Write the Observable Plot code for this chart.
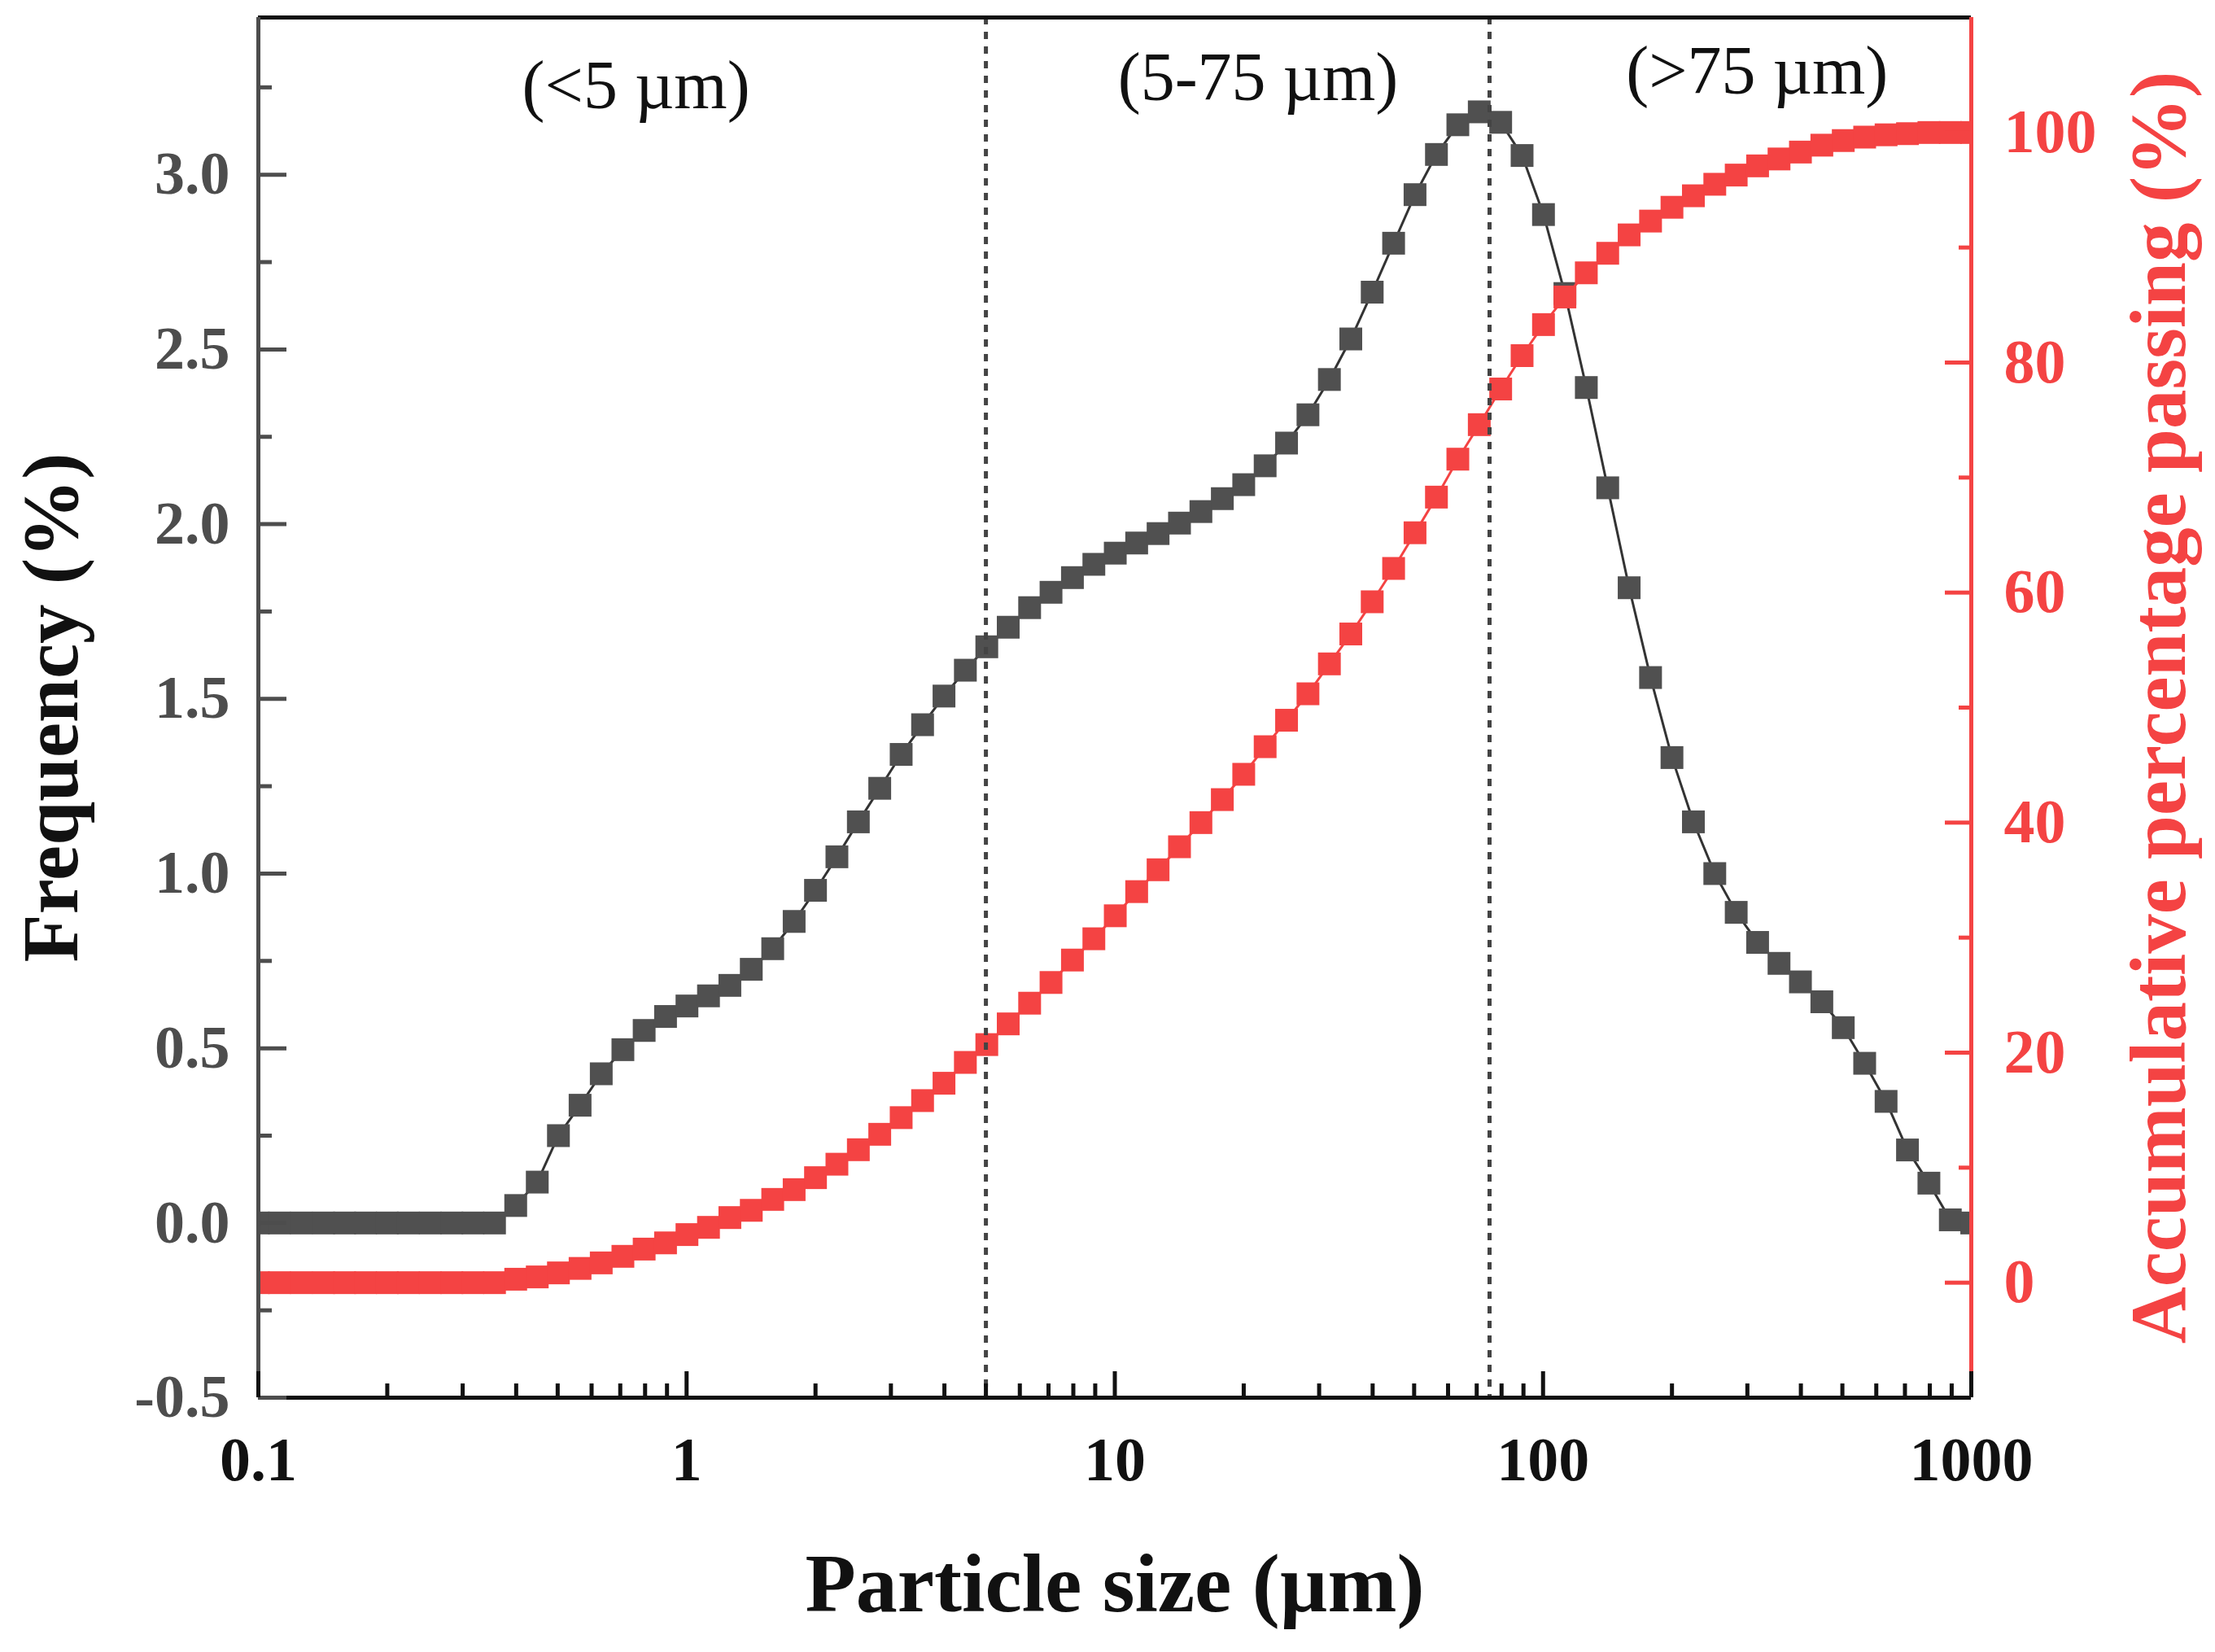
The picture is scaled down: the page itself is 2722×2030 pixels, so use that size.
<!DOCTYPE html>
<html>
<head>
<meta charset="utf-8">
<script src="https://cdn.jsdelivr.net/npm/d3@7"></script>
<script src="https://cdn.jsdelivr.net/npm/@observablehq/plot@0.6"></script>
<style>
  html, body { margin: 0; padding: 0; background: #fff; }
  #chart svg { display: block; }
</style>
</head>
<body>
<div id="chart"></div>
<script>
// Particle size classes (µm)
const sizes = [
  0.100, 0.112, 0.126, 0.142, 0.159, 0.178, 0.200, 0.224, 0.252, 0.283,
  0.317, 0.356, 0.399, 0.448, 0.502, 0.564, 0.632, 0.710, 0.796, 0.893,
  1.002, 1.125, 1.262, 1.416, 1.589, 1.783, 2.000, 2.244, 2.518, 2.825,
  3.170, 3.557, 3.991, 4.477, 5.024, 5.637, 6.325, 7.096, 7.962, 8.934,
  10.024, 11.247, 12.619, 14.159, 15.887, 17.825, 20.000, 22.440, 25.179, 28.251,
  31.698, 35.566, 39.905, 44.774, 50.238, 56.368, 63.246, 70.963, 79.621, 89.337,
  100.237, 112.468, 126.191, 141.589, 158.866, 178.250, 200.000, 224.404, 251.785, 282.508,
  316.979, 355.656, 399.052, 447.744, 502.377, 563.677, 632.456, 709.627, 796.214, 893.367,
  1002.374
];
// Frequency (%)
const frequency = [
  0, 0, 0, 0, 0, 0, 0, 0, 0, 0,
  0, 0, 0.05, 0.117, 0.25, 0.337, 0.427, 0.496, 0.551, 0.591,
  0.621, 0.650, 0.680, 0.726, 0.785, 0.863, 0.952, 1.048, 1.148, 1.244,
  1.341, 1.426, 1.508, 1.582, 1.649, 1.705, 1.761, 1.805, 1.847, 1.885,
  1.917, 1.946, 1.973, 2.003, 2.036, 2.073, 2.113, 2.167, 2.232, 2.313,
  2.414, 2.530, 2.664, 2.804, 2.943, 3.058, 3.143, 3.180, 3.150, 3.055,
  2.886, 2.66, 2.391, 2.104, 1.818, 1.561, 1.332, 1.148, 1.000, 0.889,
  0.803, 0.743, 0.690, 0.633, 0.559, 0.457, 0.348, 0.209, 0.114, 0.009,
  0
];
// Accumulative percentage passing (%)
const cumulative = [
  0, 0, 0, 0, 0, 0, 0, 0, 0, 0,
  0, 0, 0.3, 0.5, 0.85, 1.24, 1.72, 2.29, 2.92, 3.46,
  4.18, 4.81, 5.66, 6.29, 7.24, 8.09, 9.13, 10.3, 11.56, 12.9,
  14.35, 15.83, 17.34, 19.15, 20.7, 22.5, 24.3, 26.1, 28.05, 29.9,
  31.9, 34.0, 35.9, 37.9, 40.0, 42.0, 44.2, 46.6, 48.9, 51.2,
  53.8, 56.4, 59.2, 62.1, 65.2, 68.3, 71.6, 74.6, 77.7, 80.6,
  83.3, 85.7, 87.8, 89.5, 91.1, 92.3, 93.5, 94.5, 95.5, 96.3,
  97.1, 97.7, 98.3, 98.9, 99.3, 99.6, 99.8, 99.9, 100, 100,
  100
];

// Axes and ticks
const xDomain = [0.1, 1000];
const leftDomain = [-0.5, 3.45];
const rightDomain = [-10, 110];
const xMajorTicks = [0.1, 1, 10, 100, 1000];
const xMinorTicks = [0.2,0.3,0.4,0.5,0.6,0.7,0.8,0.9, 2,3,4,5,6,7,8,9, 20,30,40,50,60,70,80,90, 200,300,400,500,600,700,800,900];
const leftMajorTicks = [-0.5, 0, 0.5, 1.0, 1.5, 2.0, 2.5, 3.0];
const leftMinorTicks = [-0.25, 0.25, 0.75, 1.25, 1.75, 2.25, 2.75, 3.25];
const rightMajorTicks = [0, 20, 40, 60, 80, 100];
const rightMinorTicks = [10, 30, 50, 70, 90];
const boundaries = [5, 75];
const regionLabels = ["(<5 µm)", "(5-75 µm)", "(>75 µm)"];
const regionX = [0.762, 21.6, 316];
const regionY = [3.19, 3.213, 3.232];

// map right-axis values into the left (frequency) scale
const toLeft = v => leftDomain[0] + (v - rightDomain[0]) * (leftDomain[1] - leftDomain[0]) / (rightDomain[1] - rightDomain[0]);

const data = sizes.map((s, i) => ({size: s, freq: frequency[i], cum: toLeft(cumulative[i])}));
const regions = regionLabels.map((t, i) => ({t, x: regionX[i], y: regionY[i]}));

const W = 2722, H = 2030;
const mL = 317, mR = 300, mT = 21, mB = 313;
const pw = W - mL - mR, ph = H - mT - mB;
const GRAY = "#505050", RED = "#f44343", AX = "#4d4d4d", BLACK = "#111111";
const SQ = 28 / Math.sqrt(Math.PI);

const chart = Plot.plot({
  width: W, height: H,
  marginLeft: mL, marginRight: mR, marginTop: mT, marginBottom: mB,
  x: {type: "log", domain: xDomain, axis: null},
  y: {domain: leftDomain, axis: null},
  style: {fontFamily: "'Liberation Serif', 'Times New Roman', serif", background: "#fff"},
  marks: [
    // frequency series
    Plot.line(data, {x: "size", y: "freq", stroke: "#333", strokeWidth: 3, clip: true}),
    Plot.dot(data, {x: "size", y: "freq", symbol: "square", r: SQ, fill: GRAY, stroke: null, clip: true}),
    // accumulative series
    Plot.line(data, {x: "size", y: "cum", stroke: RED, strokeWidth: 3, clip: true}),
    Plot.dot(data, {x: "size", y: "cum", symbol: "square", r: SQ, fill: RED, stroke: null, clip: true}),
    // boundaries
    Plot.ruleX(boundaries, {stroke: "#444", strokeWidth: 5, strokeDasharray: "9,9"}),
    // region labels
    Plot.text(regions, {x: "x", y: "y", text: "t", fontSize: 84, lineAnchor: "bottom", fill: BLACK}),
    // frame
    Plot.ruleY([leftDomain[1]], {stroke: BLACK, strokeWidth: 5}),
    Plot.ruleY([leftDomain[0]], {stroke: BLACK, strokeWidth: 5}),
    Plot.ruleX([xDomain[0]], {stroke: AX, strokeWidth: 5}),
    Plot.ruleX([xDomain[1]], {stroke: RED, strokeWidth: 5}),
    // left ticks
    Plot.tickY(leftMajorTicks, {y: d => d, stroke: AX, strokeWidth: 5, insetRight: pw - 35}),
    Plot.tickY(leftMinorTicks, {y: d => d, stroke: AX, strokeWidth: 5, insetRight: pw - 17}),
    // bottom ticks
    Plot.tickX(xMajorTicks, {x: d => d, stroke: BLACK, strokeWidth: 5, insetTop: ph - 32}),
    Plot.tickX(xMinorTicks, {x: d => d, stroke: BLACK, strokeWidth: 5, insetTop: ph - 17}),
    // right ticks
    Plot.tickY(rightMajorTicks, {y: d => toLeft(d), stroke: RED, strokeWidth: 5, insetLeft: pw - 32}),
    Plot.tickY(rightMinorTicks, {y: d => toLeft(d), stroke: RED, strokeWidth: 5, insetLeft: pw - 15}),
    // tick labels
    Plot.text(leftMajorTicks, {y: d => d, text: d => d.toFixed(1), frameAnchor: "left", dx: -35, textAnchor: "end",
      fontSize: 74, fontWeight: "bold", fill: AX}),
    Plot.text(rightMajorTicks, {y: d => toLeft(d), text: d => String(d), frameAnchor: "right", dx: 40, textAnchor: "start",
      fontSize: 76, fontWeight: "bold", fill: RED}),
    Plot.text(xMajorTicks, {x: d => d, text: d => String(d), frameAnchor: "bottom", dy: 101, lineAnchor: "bottom",
      fontSize: 76, fontWeight: "bold", fill: BLACK}),
    // axis titles
    Plot.text(["Particle size (µm)"], {frameAnchor: "bottom", dy: 262, lineAnchor: "bottom", textAnchor: "middle",
      fontSize: 102, fontWeight: "bold", fill: BLACK}),
    Plot.text(["Frequency (%)"], {frameAnchor: "left", dx: -223, rotate: -90, lineAnchor: "bottom", textAnchor: "middle",
      fontSize: 97, fontWeight: "bold", fill: BLACK}),
    Plot.text(["Accumulative percentage passing (%)"], {frameAnchor: "right", dx: 262, rotate: -90, lineAnchor: "bottom",
      textAnchor: "middle", fontSize: 97, fontWeight: "bold", fill: RED})
  ]
});
document.getElementById("chart").appendChild(chart);
</script>
</body>
</html>
